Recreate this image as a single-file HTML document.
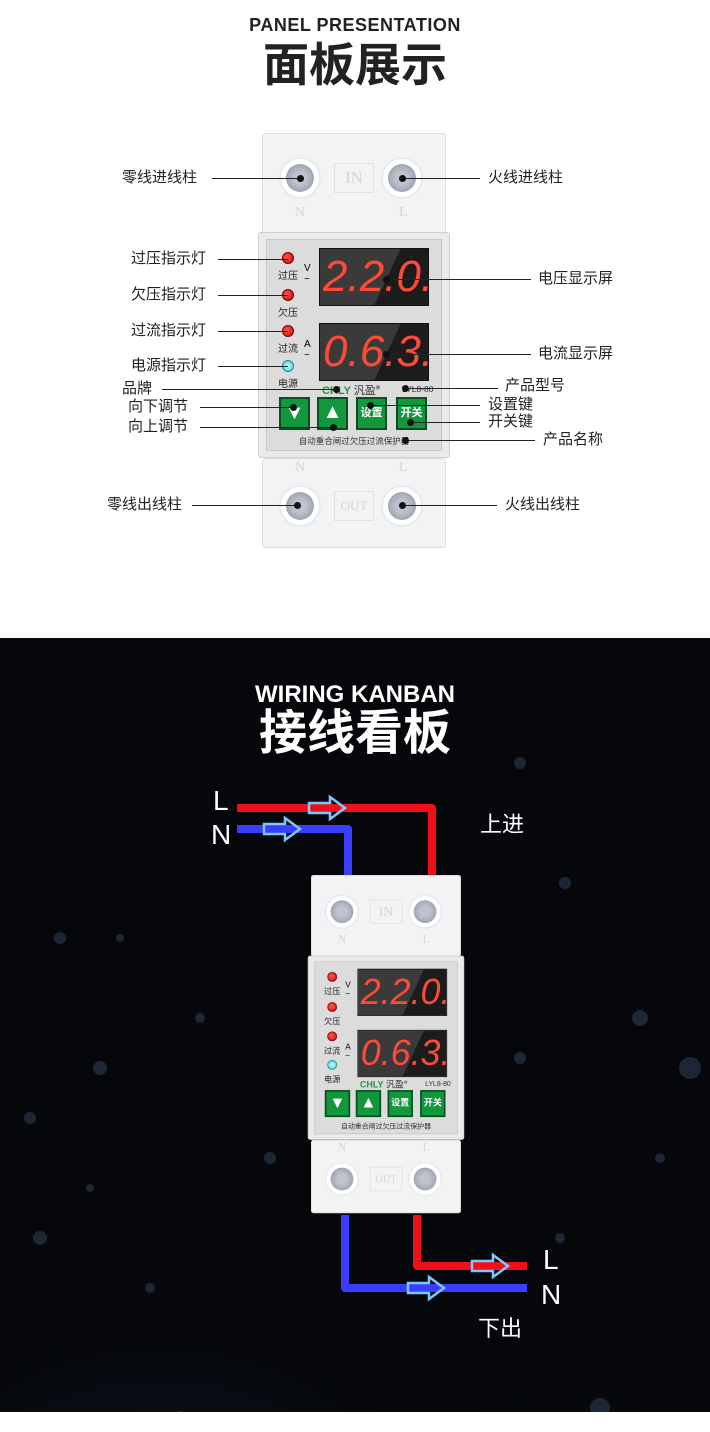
<!DOCTYPE html>
<html><head><meta charset="utf-8"><style>
*{margin:0;padding:0;box-sizing:border-box}
body{width:710px;height:1432px;background:#fff;position:relative;overflow:hidden;font-family:"Liberation Sans","Noto Sans CJK SC",sans-serif}
.a{position:absolute}
.t{position:absolute;font-size:15px;color:#222;white-space:nowrap;line-height:1}
.ln{position:absolute;height:1px;background:#222}
.dot{position:absolute;width:7px;height:7px;border-radius:50%;background:#111;margin:-3px 0 0 -3px}
.dev{position:absolute;width:184px;height:415px}
.blk{position:absolute;left:0;width:184px;background:#f3f3f3;border:1px solid #ddd;border-radius:3px}
.term{position:absolute;width:42px;height:42px;border-radius:50%;background:#fff;border:2px solid #e4ecf3;margin:-21px 0 0 -21px}
.term:after{content:"";position:absolute;left:5px;top:5px;width:28px;height:28px;border-radius:50%;background:radial-gradient(circle,#bfc3cc 30%,#8a90a0 100%)}
.fl{position:absolute;color:#d4d4d4;font-size:14px;font-family:"Liberation Serif",serif}
.box{position:absolute;border:1px solid #e0e0e0;color:#d6d6d6;font-family:"Liberation Serif",serif;font-size:17px;text-align:center;line-height:28px}
.led{position:absolute;width:12px;height:12px;border-radius:50%;background:radial-gradient(circle at 40% 40%,#ff5a4a,#c00);border:1px solid #700;margin:-6px 0 0 -6px}
.ll{position:absolute;font-size:10px;color:#222;width:30px;text-align:center;margin-left:-15px}
.disp{position:absolute;left:57px;width:110px;height:58px;background:linear-gradient(115deg,#3a3a3a 60%,#1c1c1c 60%);border:1px solid #111;color:#ff4a3a;font-family:"Liberation Sans",sans-serif;font-style:italic;font-size:44px;line-height:56px;letter-spacing:0;padding-left:3px;overflow:hidden;white-space:nowrap}
.btn{position:absolute;top:264px;width:31px;height:33px;background:#13973d;border:2px solid #0b4d20;color:#fff;font-size:11px;text-align:center;line-height:29px;font-weight:bold}
</style></head><body>

<div class="t" style="left:0;width:710px;text-align:center;top:16px;font-size:18px;font-weight:bold;letter-spacing:0.5px">PANEL PRESENTATION</div>
<div class="t" style="left:0;width:710px;text-align:center;top:42px;font-size:46px;font-weight:bold">面板展示</div>

<div class="dev" id="d1" style="left:262px;top:133px">
 <div class="blk" style="top:0;height:100px"></div>
 <div class="blk" style="top:325px;height:90px"></div>
 <div class="term" style="left:38px;top:45px"></div><div class="term" style="left:140px;top:45px"></div>
 <div class="box" style="left:72px;top:30px;width:40px;height:30px">IN</div>
 <div class="fl" style="left:33px;top:72px">N</div><div class="fl" style="left:137px;top:72px">L</div>
 <div class="a" style="left:-4px;top:99px;width:192px;height:226px;background:#eaeaea;border:1px solid #cfcfcf;border-radius:3px"></div>
 <div class="a" style="left:4px;top:106px;width:176px;height:212px;background:#dcdcdc;border:1px solid #c8c8c8"></div>
 <div class="led" style="left:26px;top:125px"></div><div class="ll" style="left:26px;top:134px">过压</div>
 <div class="led" style="left:26px;top:162px"></div><div class="ll" style="left:26px;top:171px">欠压</div>
 <div class="led" style="left:26px;top:198px"></div><div class="ll" style="left:26px;top:207px">过流</div>
 <div class="led" style="left:26px;top:233px;background:radial-gradient(circle,#bff,#4cc);border-color:#288"></div><div class="ll" style="left:26px;top:242px">电源</div>
 <div class="a" style="left:42px;top:130px;font-size:10px">V<br>~</div>
 <div class="a" style="left:42px;top:206px;font-size:10px">A<br>~</div>
 <div class="disp" style="top:115px">2.2.0.</div>
 <div class="disp" style="top:190px">0.6.3.</div>
 <div class="a" style="left:60px;top:249px;font-size:11px;font-weight:bold;color:#1a9a40;white-space:nowrap">CHLY <span style="color:#333;font-weight:normal">汎盈</span><sup style="font-size:6px;color:#333">®</sup></div>
 <div class="a" style="left:140px;top:251px;font-size:8.5px;color:#333">LYL8-80</div>
 <div class="btn" style="left:17px;font-size:20px;line-height:28px">▼</div>
 <div class="btn" style="left:55px;font-size:20px;line-height:26px">▲</div>
 <div class="btn" style="left:94px">设置</div>
 <div class="btn" style="left:134px">开关</div>
 <div class="a" style="left:0;width:184px;text-align:center;top:302px;font-size:8.5px;color:#333">自动重合闸过欠压过流保护器</div>
 <div class="fl" style="left:33px;top:327px">N</div><div class="fl" style="left:137px;top:327px">L</div>
 <div class="term" style="left:38px;top:373px"></div><div class="term" style="left:140px;top:373px"></div>
 <div class="box" style="left:72px;top:358px;width:40px;height:30px;font-size:13px">OUT</div>
</div>

<div class="t" style="left:122px;top:170px">零线进线柱</div><div class="ln" style="left:212px;width:88px;top:178px"></div><div class="dot" style="left:300px;top:178px"></div>
<div class="t" style="left:488px;top:170px">火线进线柱</div><div class="ln" style="left:402px;width:78px;top:178px"></div><div class="dot" style="left:402px;top:178px"></div>
<div class="t" style="left:131px;top:251px">过压指示灯</div><div class="ln" style="left:218px;width:70px;top:259px"></div>
<div class="t" style="left:131px;top:287px">欠压指示灯</div><div class="ln" style="left:218px;width:70px;top:295px"></div>
<div class="t" style="left:131px;top:323px">过流指示灯</div><div class="ln" style="left:218px;width:70px;top:331px"></div>
<div class="t" style="left:131px;top:358px">电源指示灯</div><div class="ln" style="left:218px;width:70px;top:366px"></div>
<div class="t" style="left:122px;top:381px">品牌</div><div class="ln" style="left:162px;width:174px;top:389px"></div><div class="dot" style="left:336px;top:389px"></div>
<div class="t" style="left:128px;top:399px">向下调节</div><div class="ln" style="left:200px;width:93px;top:407px"></div><div class="dot" style="left:293px;top:407px"></div>
<div class="t" style="left:128px;top:419px">向上调节</div><div class="ln" style="left:200px;width:133px;top:427px"></div><div class="dot" style="left:333px;top:427px"></div>
<div class="t" style="left:538px;top:271px">电压显示屏</div><div class="ln" style="left:386px;width:145px;top:279px"></div><div class="dot" style="left:386px;top:279px"></div>
<div class="t" style="left:538px;top:346px">电流显示屏</div><div class="ln" style="left:386px;width:145px;top:354px"></div><div class="dot" style="left:386px;top:354px"></div>
<div class="t" style="left:505px;top:378px">产品型号</div><div class="ln" style="left:405px;width:93px;top:388px"></div><div class="dot" style="left:405px;top:388px"></div>
<div class="t" style="left:488px;top:397px">设置键</div><div class="ln" style="left:370px;width:110px;top:405px"></div><div class="dot" style="left:370px;top:405px"></div>
<div class="t" style="left:488px;top:414px">开关键</div><div class="ln" style="left:410px;width:70px;top:422px"></div><div class="dot" style="left:410px;top:422px"></div>
<div class="t" style="left:543px;top:432px">产品名称</div><div class="ln" style="left:405px;width:130px;top:440px"></div><div class="dot" style="left:405px;top:440px"></div>
<div class="t" style="left:107px;top:497px">零线出线柱</div><div class="ln" style="left:192px;width:103px;top:505px"></div><div class="dot" style="left:297px;top:505px"></div>
<div class="t" style="left:505px;top:497px">火线出线柱</div><div class="ln" style="left:402px;width:95px;top:505px"></div><div class="dot" style="left:402px;top:505px"></div>

<div class="a" style="left:0;top:638px;width:710px;height:774px;background:radial-gradient(ellipse 300px 260px at 160px 950px,rgba(40,60,90,.35),transparent),radial-gradient(ellipse 260px 300px at 560px 1050px,rgba(35,55,85,.3),transparent),radial-gradient(ellipse 200px 200px at 230px 1200px,rgba(30,45,70,.3),transparent),#05070b"></div>
<svg class="a" style="left:0;top:638px" width="710" height="774">
 <g fill="#4a6282" opacity=".35">
  <circle cx="60" cy="300" r="6"/><circle cx="520" cy="125" r="6"/><circle cx="565" cy="245" r="6"/><circle cx="100" cy="430" r="7"/><circle cx="640" cy="380" r="8"/><circle cx="120" cy="300" r="4"/><circle cx="690" cy="430" r="11"/><circle cx="40" cy="600" r="7"/><circle cx="600" cy="770" r="10"/><circle cx="270" cy="520" r="6"/><circle cx="150" cy="650" r="5"/><circle cx="560" cy="600" r="5"/><circle cx="180" cy="780" r="7"/><circle cx="30" cy="480" r="6"/><circle cx="660" cy="520" r="5"/><circle cx="520" cy="420" r="6"/><circle cx="90" cy="550" r="4"/><circle cx="200" cy="380" r="5"/>
 </g>
</svg>
<div class="t" style="left:0;width:710px;text-align:center;top:683px;font-size:24px;font-weight:bold;color:#fff">WIRING KANBAN</div>
<div class="t" style="left:0;width:710px;text-align:center;top:710px;font-size:48px;font-weight:bold;color:#fff">接线看板</div>

<svg class="a" style="left:0;top:0" width="710" height="1432">
 <g fill="none" stroke-width="8" stroke-linejoin="round">
  <path d="M237 808 H432 V876" stroke="#f0101a"/>
  <path d="M237 829 H348 V876" stroke="#3a3cff"/>
  <path d="M345 1215 V1288 H527" stroke="#3a3cff"/>
  <path d="M417 1215 V1266 H527" stroke="#f0101a"/>
 </g>
 <g stroke="#7ac8ff" stroke-width="2.5" fill="none">
  <path d="M309 803 H330 V797 L345 808 L330 819 V813 H309 Z"/>
  <path d="M264 824 H285 V818 L300 829 L285 840 V834 H264 Z"/>
  <path d="M472 1261 H493 V1255 L508 1266 L493 1277 V1271 H472 Z"/>
  <path d="M408 1283 H429 V1277 L444 1288 L429 1299 V1293 H408 Z"/>
 </g>
</svg>
<div class="t" style="left:213px;top:787px;font-size:28px;color:#fff">L</div>
<div class="t" style="left:211px;top:821px;font-size:28px;color:#fff">N</div>
<div class="t" style="left:480px;top:814px;font-size:22px;color:#fff">上进</div>
<div class="t" style="left:543px;top:1246px;font-size:28px;color:#fff">L</div>
<div class="t" style="left:541px;top:1281px;font-size:28px;color:#fff">N</div>
<div class="t" style="left:478px;top:1318px;font-size:22px;color:#fff">下出</div>

<script>
var c=document.getElementById('d1').cloneNode(true);c.id='d2';
c.style.left='311px';c.style.top='875px';c.style.transformOrigin='0 0';c.style.transform='scale(0.815)';
document.body.appendChild(c);
</script>
</body></html>
